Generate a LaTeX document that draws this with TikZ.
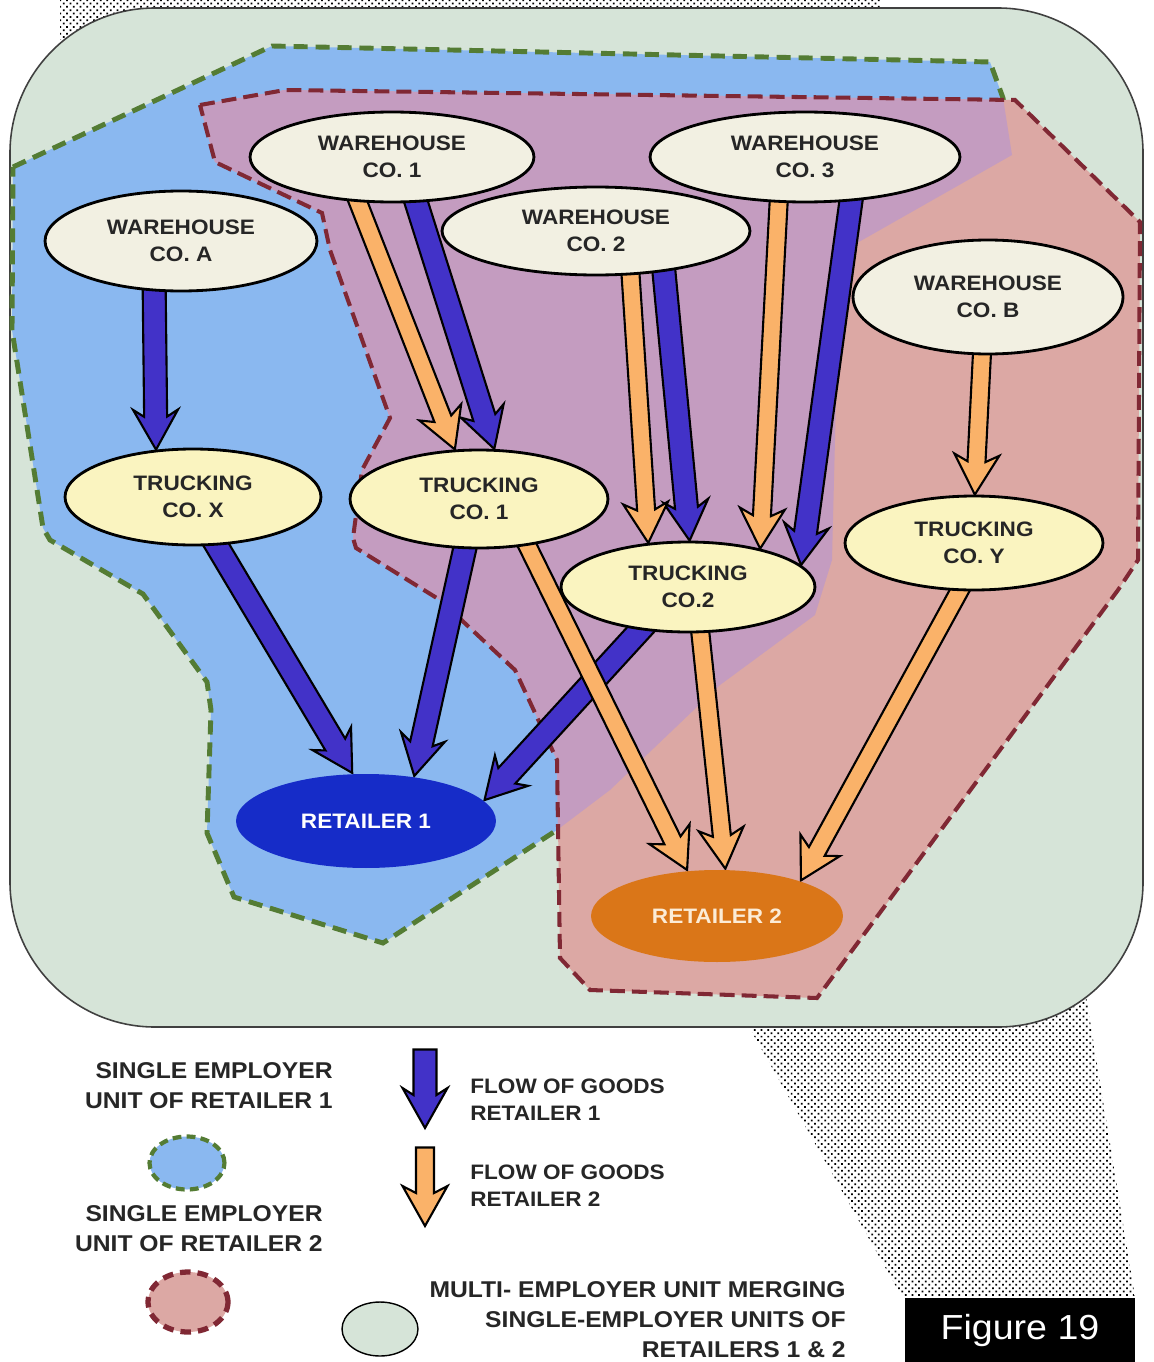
\documentclass[tikz,border=0pt]{standalone}
\usepackage{fontspec}
\setmainfont{Liberation Sans}[FakeStretch=1.08]
\usetikzlibrary{calc,shapes.geometric,patterns.meta}
\pgfdeclarelayer{ground}
\pgfdeclarelayer{flows}
\pgfsetlayers{ground,flows,main}

\definecolor{unitbg}{RGB}{214,228,216}
\definecolor{sky}{RGB}{138,184,240}
\definecolor{rose}{RGB}{220,168,164}
\definecolor{mauve}{RGB}{196,156,192}
\definecolor{moss}{RGB}{84,124,52}
\definecolor{wine}{RGB}{128,40,52}
\definecolor{whfill}{RGB}{242,240,226}
\definecolor{trfill}{RGB}{250,244,192}
\definecolor{goodsone}{RGB}{66,50,200}
\definecolor{goodstwo}{RGB}{250,178,105}
\definecolor{retone}{RGB}{22,44,200}
\definecolor{rettwo}{RGB}{218,118,24}
\definecolor{rettwotext}{RGB}{252,236,214}

\tikzset{
  firm/.style={ellipse, draw=black, line width=1.6pt, inner sep=0pt, align=center,
    text=black!85, font=\fontsize{11.9}{15.3}\selectfont\bfseries},
  warehouse/.style={firm, fill=whfill},
  trucking/.style={firm, fill=trfill},
  retailer/.style={firm, draw=none, text=white},
  goods/.style={draw=black, line width=1.2pt, line join=miter},
  keytext/.style={inner sep=0pt, text=black!85, font=\fontsize{13}{17}\selectfont\bfseries},
  flowtext/.style={inner sep=0pt, align=left, text=black!85, font=\fontsize{11.9}{15.3}\selectfont\bfseries},
  unitone/.style={draw=moss, line width=2.8pt, dash pattern=on 8pt off 4.5pt},
  unittwo/.style={draw=wine, line width=2.3pt, dash pattern=on 8.5pt off 4pt},
  shade dots/.style={pattern={Dots[distance=2.7pt, radius=0.7pt, angle=45]}, pattern color=black},
}

% outlines of the two single employer units (pixel grid, y down)
\newcommand{\oneborder}{(13,167) -- (272,46) -- (990,62) -- (1003,98) -- (1012,155)
  -- (850,247) -- (837,360) -- (832,560) -- (815,615) -- (720,685) -- (610,790)
  -- (557,830) -- (383,943) -- (234,897) -- (207,833) -- (211,710) -- (207,682)
  -- (143,594) -- (50,540) -- (43,528) -- (12,330) -- cycle}
\newcommand{\twoborder}{(200,105) -- (285,90) -- (1015,100) -- (1140,222) -- (1138,560)
  -- (1118,590) -- (817,998) -- (590,990) -- (560,958) -- (557,760) -- (515,670)
  -- (440,600) -- (356,548) -- (353,538) -- (362,470) -- (390,418) -- (330,250)
  -- (322,213) -- (215,162) -- cycle}

% block arrow: colour, half shaft width, from, to
\newcommand{\flow}[4]{%
  \coordinate (fT) at ($(#3)!-0.25cm!(#4)$);
  \coordinate (fP) at (#4);
  \coordinate (fH) at ($(fP)!0.66cm!(fT)$);
  \coordinate (fB) at ($(fP)!0.8cm!(fT)$);
  \draw[goods, fill=#1]
    ($(fT)!#2!90:(fP)$) -- ($(fH)!#2!-90:(fT)$) -- ($(fB)!0.45cm!-90:(fT)$)
    -- (fP) -- ($(fB)!0.45cm!90:(fT)$) -- ($(fH)!#2!90:(fT)$)
    -- ($(fT)!#2!-90:(fP)$) -- cycle;
}

\begin{document}
\begin{tikzpicture}[x=0.02cm, y=-0.02cm]
\useasboundingbox (0,0) rectangle (1153,1362);
\begin{pgfonlayer}{ground}
  \fill[white] (0,0) rectangle (1153,1362);
  % shadow
  \fill[shade dots] (60,0) rectangle (880,40);
  \fill[shade dots] (745,1020) -- (1085,990) -- (1135,1297) -- (902,1297) -- cycle;
  % multi-employer unit
  \draw[fill=unitbg, draw=black!75, line width=0.9pt, rounded corners=2.9cm]
    (10,8) rectangle (1143,1027);
  % single employer units
  \draw[unitone, fill=sky] \oneborder;
  \fill[rose] \twoborder;
  \begin{scope}
    \clip \oneborder;
    \fill[mauve] \twoborder;
  \end{scope}
  \draw[unittwo] \twoborder;
\end{pgfonlayer}

% firms
\node[warehouse, minimum width=5.44cm, minimum height=2cm] (wha) at (181,241) {WAREHOUSE\\CO. A};
\node[warehouse, minimum width=5.68cm, minimum height=1.8cm] (wh1) at (392,157) {WAREHOUSE\\CO. 1};
\node[warehouse, minimum width=6.2cm, minimum height=1.8cm] (wh3) at (805,157) {WAREHOUSE\\CO. 3};
\node[warehouse, minimum width=6.16cm, minimum height=1.76cm] (wh2) at (596,231) {WAREHOUSE\\CO. 2};
\node[warehouse, minimum width=5.4cm, minimum height=2.28cm] (whb) at (988,297) {WAREHOUSE\\CO. B};
\node[trucking, minimum width=5.12cm, minimum height=1.92cm] (trx) at (193,497) {TRUCKING\\CO. X};
\node[trucking, minimum width=5.16cm, minimum height=1.96cm] (tr1) at (479,499) {TRUCKING\\CO. 1};
\node[trucking, minimum width=5.08cm, minimum height=1.8cm] (tr2) at (688,587) {TRUCKING\\CO.2};
\node[trucking, minimum width=5.16cm, minimum height=1.88cm] (try) at (974,543) {TRUCKING\\CO. Y};
\node[retailer, fill=retone, minimum width=5.2cm, minimum height=1.88cm] (ret1) at (366,821) {RETAILER 1};
\node[retailer, fill=rettwo, text=rettwotext, minimum width=5.04cm, minimum height=1.84cm] (ret2) at (717,916) {RETAILER 2};

% legend
\node[ellipse, fill=sky, unitone, line width=2.4pt, dash pattern=on 5pt off 3pt,
  minimum width=1.5cm, minimum height=1.06cm] (keyone) at (187,1163) {};
\node[ellipse, fill=rose, unittwo, line width=3pt, dash pattern=on 6pt off 4pt,
  minimum width=1.6cm, minimum height=1.2cm] (keytwo) at (188,1302) {};
\node[ellipse, fill=unitbg, draw=black, line width=0.8pt,
  minimum width=1.52cm, minimum height=1.08cm] (keymulti) at (380,1329) {};
\node[keytext, align=right, anchor=north east] (keyonetext) at (333,1062) {SINGLE EMPLOYER\\UNIT OF RETAILER 1};
\node[keytext, align=right, anchor=north east] (keytwotext) at (323,1205) {SINGLE EMPLOYER\\UNIT OF RETAILER 2};
\node[flowtext, anchor=north west] (flowonetext) at (470,1079) {FLOW OF GOODS\\RETAILER 1};
\node[flowtext, anchor=north west] (flowtwotext) at (470,1165) {FLOW OF GOODS\\RETAILER 2};
\node[keytext, align=right, anchor=north east, font=\fontsize{13}{17.2}\selectfont\bfseries]
  (multitext) at (846,1281) {MULTI- EMPLOYER UNIT MERGING\\SINGLE-EMPLOYER UNITS OF\\RETAILERS 1 \& 2};
\node[fill=black, text=white, inner sep=0pt, minimum width=4.6cm, minimum height=1.3cm,
  font=\fontsize{19.8}{24}\selectfont] (fig) at (1020,1330) {Figure 19};
\coordinate (keyonetop) at (425,1062);
\coordinate (keyonetip) at (425,1128);
\coordinate (keytwotop) at (425,1160);
\coordinate (keytwotip) at (425,1226);

\begin{pgfonlayer}{flows}
  % goods of retailer 1
  \flow{goodsone}{0.23cm}{wha.242}{trx.128}
  \flow{goodsone}{0.23cm}{wh1.298}{tr1.73}
  \flow{goodsone}{0.23cm}{wh2.329}{tr2.88}
  \flow{goodsone}{0.23cm}{wh3.316}{tr2.11}
  \flow{goodsone}{0.23cm}{trx.296}{ret1.106}
  \flow{goodsone}{0.23cm}{tr1.254}{ret1.43}
  \flow{goodsone}{0.23cm}{tr2.222}{ret1.10}
  % goods of retailer 2
  \flow{goodstwo}{0.18cm}{wh1.233}{tr1.116}
  \flow{goodstwo}{0.18cm}{wh2.308}{tr2.132}
  \flow{goodstwo}{0.18cm}{wh3.240}{tr2.28}
  \flow{goodstwo}{0.18cm}{whb.264}{try.89}
  \flow{goodstwo}{0.18cm}{tr1.316}{ret2.123}
  \flow{goodstwo}{0.18cm}{tr2.285}{ret2.80}
  \flow{goodstwo}{0.18cm}{try.253}{ret2.23}
  % legend
  \flow{goodsone}{0.23cm}{keyonetop}{keyonetip}
  \flow{goodstwo}{0.18cm}{keytwotop}{keytwotip}
\end{pgfonlayer}
\end{tikzpicture}
\end{document}
